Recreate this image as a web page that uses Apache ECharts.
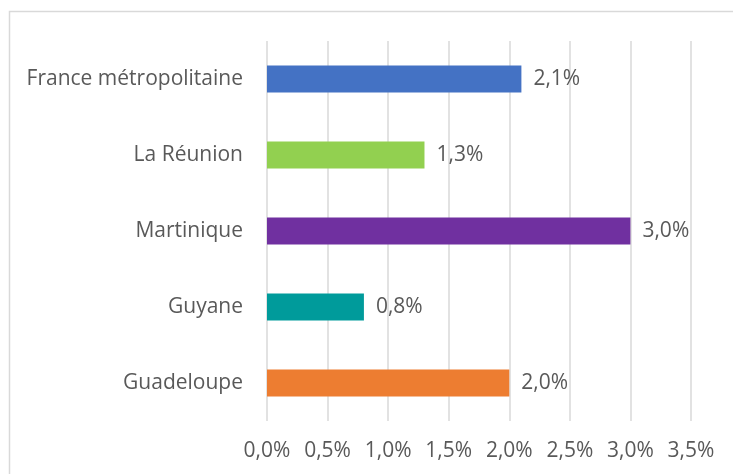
<!DOCTYPE html>
<html>
<head>
    <meta charset="UTF-8">
    <title></title>
    <script src="https://cdn.jsdelivr.net/npm/echarts@6/dist/echarts.min.js"></script>
    <style>
        *{margin:0;padding:0;}
        body,html{
            height: 100%;
            width: 100%;
            background: #fff;
        }
        #main{
            width: 733px;
            height: 474px;
        }
    </style>
</head>
<body>
<div id="main"></div>
<script>
    // données
    var categories = ['Guadeloupe', 'Guyane', 'Martinique', 'La Réunion', 'France métropolitaine'];
    var values = [2.0, 0.8, 3.0, 1.3, 2.1];
    var colors = ['#ED7D31', '#009B9B', '#7030A0', '#92D050', '#4472C4'];
    var xTicks = [0, 0.5, 1.0, 1.5, 2.0, 2.5, 3.0, 3.5];

    var textColor = '#595959';
    var fontFamily = 'Open Sans, Lato, sans-serif';
    var fontSize = 21;

    function pct(v) {
        return v.toFixed(1).replace('.', ',') + '%';
    }

    var myChart = echarts.init(document.getElementById('main'));

    var option = {
        animation: false,
        graphic: [{
            type: 'rect',
            shape: {x: 9.5, y: 11.5, width: 760, height: 500},
            style: {fill: 'none', stroke: '#d9d9d9', lineWidth: 1.5},
            silent: true
        }],
        grid: {
            left: 267,
            right: 42,
            top: 41,
            bottom: 53
        },
        xAxis: {
            type: 'value',
            min: xTicks[0],
            max: xTicks[xTicks.length - 1],
            interval: 0.5,
            axisLine: {show: false},
            axisTick: {show: false},
            splitLine: {lineStyle: {color: '#d9d9d9', width: 1.5}},
            axisLabel: {
                color: textColor,
                fontFamily: fontFamily,
                fontSize: fontSize,
                margin: 20,
                formatter: function (v) { return pct(v); }
            }
        },
        yAxis: {
            type: 'category',
            data: categories,
            axisLine: {show: false},
            axisTick: {show: false},
            axisLabel: {
                color: textColor,
                fontFamily: fontFamily,
                fontSize: fontSize,
                margin: 24
            }
        },
        series: [{
            type: 'bar',
            barWidth: 27,
            data: values.map(function (v, i) {
                return {value: v, itemStyle: {color: colors[i]}};
            }),
            label: {
                show: true,
                position: 'right',
                distance: 12,
                color: textColor,
                fontFamily: fontFamily,
                fontSize: fontSize,
                formatter: function (p) { return pct(p.value); }
            }
        }]
    };

    myChart.setOption(option);
</script>
</body>
</html>
